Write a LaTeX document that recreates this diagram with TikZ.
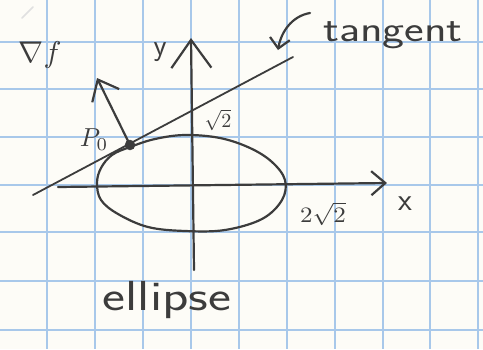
\documentclass[tikz,border=0pt]{standalone}
\usepackage{graphicx}
\usetikzlibrary{arrows.meta}
\definecolor{gridblue}{RGB}{168,200,234}
\definecolor{ink}{RGB}{60,60,60}
\definecolor{paper}{RGB}{253,252,247}
\begin{document}
\begin{tikzpicture}[x=1pt,y=-1pt,
  inkline/.style={draw=ink,line width=2.2pt,line cap=round,line join=round},
  gridline/.style={draw=gridblue,line width=1.6pt},
  lbl/.style={text=ink,inner sep=0pt},
]
\fill[paper] (0,0) rectangle (483,349);
\useasboundingbox (0,0) rectangle (483,349);
% grid paper
\foreach \x in {47,95,143,191,239,287,335,383,430,478}
  \draw[gridline] (\x,0) -- (\x,349);
\foreach \y in {42,89,137,185,232,281,330}
  \draw[gridline] (0,\y) -- (483,\y);
% faint pencil mark
\draw[black!12,line width=1.5pt,line cap=round] (22,18) -- (33,7);
% key points
\coordinate (xstart) at (58,187);
\coordinate (xend) at (387,183);
\coordinate (ybot) at (194,270);
\coordinate (ytop) at (191,38);
\coordinate (tstart) at (33,195);
\coordinate (tend) at (293,57);
\coordinate (gradtip) at (97,78);
\coordinate (ptrstart) at (310,13);
\coordinate (ptrtip) at (278,50);
% ellipse
\draw[inkline] plot[smooth cycle,tension=0.6] coordinates {
  (97,183) (101,168) (112,155) (130,147) (155,139) (185,135) (220,138)
  (250,148) (272,162) (285,180) (282,200) (262,219) (225,230) (185,231)
  (148,227) (118,214) (101,200)};
% axes
\draw[inkline,-{Straight Barb[length=14pt,width=24pt]}] (xstart) -- (xend);
\draw[inkline,-{Straight Barb[length=28pt,width=40pt]}] (ybot) -- (ytop);
% tangent line
\draw[inkline,line width=1.8pt] (tstart) -- (tend);
% point P0 and gradient
\node[circle,fill=ink,draw=ink,inner sep=0pt,minimum size=10pt] (P0) at (130,145) {};
\draw[inkline,-{Straight Barb[length=18pt,width=30pt]}] (P0.center) -- (gradtip);
% pointer to tangent
\draw[inkline,-{Straight Barb[length=10pt,width=20pt]}] (ptrstart) .. controls (292,16) and (281,32) .. (ptrtip);
% labels
\node[lbl] (gradf) at (40,55) {\scalebox{3}{$\nabla f$}};
\node[lbl,font=\fontsize{30}{30}\selectfont\sffamily] (ylab) at (160,52) {y};
\node[lbl] (rt2) at (218,120) {\scalebox{2}{$\sqrt{2}$}};
\node[lbl] (P0lab) at (94,140) {\scalebox{2.6}{$P_0$}};
\node[lbl] (rtt) at (323,214) {\scalebox{2.5}[2.2]{$2\sqrt{2}$}};
\node[lbl,font=\fontsize{32}{32}\selectfont\sffamily] (xlab) at (405,204) {x};
\node[lbl,font=\fontsize{36}{36}\selectfont\sffamily] (tang) at (393,35) {\scalebox{1.3}[1]{tangent}};
\node[lbl,font=\fontsize{42}{42}\selectfont\sffamily] (ell) at (167,300) {\scalebox{1.3}[1]{ellipse}};
\end{tikzpicture}
\end{document}
